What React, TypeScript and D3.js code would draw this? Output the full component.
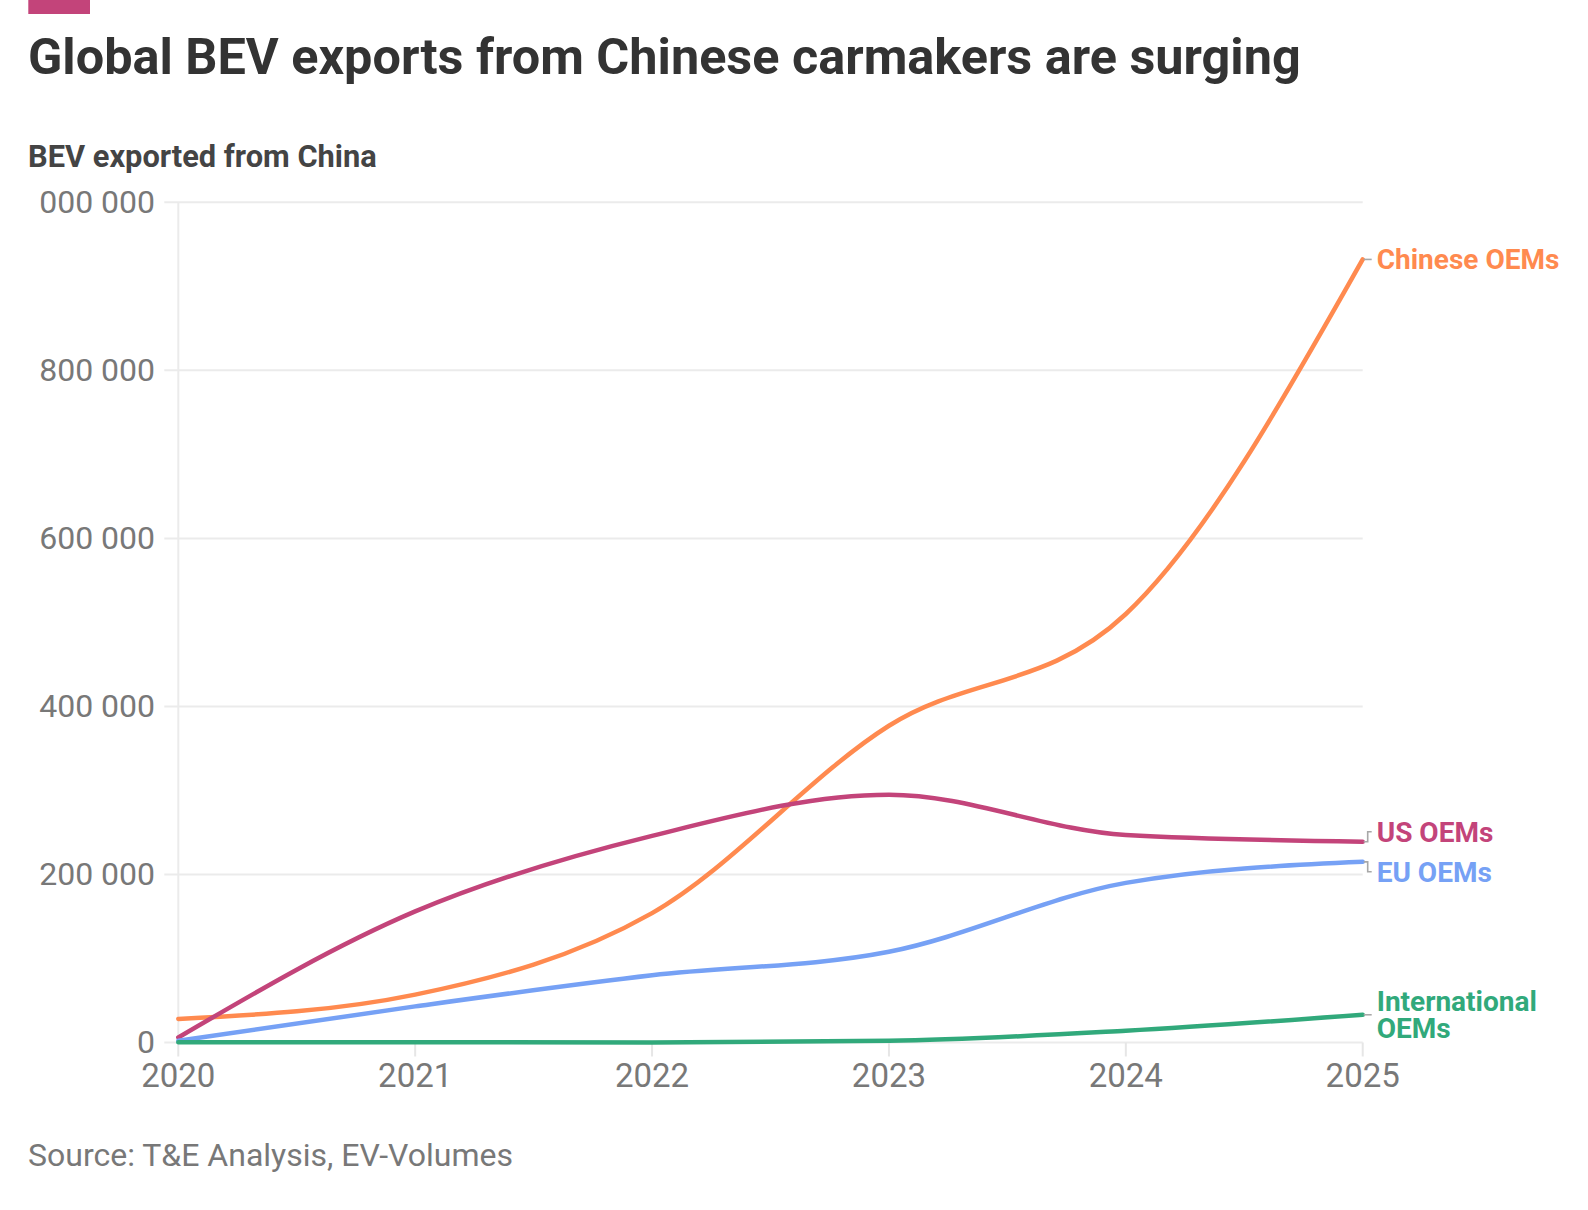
import { useMemo } from "react";
import * as d3 from "d3";

const WIDTH = 1588;
const HEIGHT = 1210;
const MARGIN = { top: 202.3, right: 225.3, bottom: 167.5, left: 178.3 };
const FONT = "Roboto, 'Noto Sans', sans-serif";

// values (units: vehicles)
const years = [2020, 2021, 2022, 2023, 2024, 2025];
const chineseOEMs = [28000, 57000, 154000, 377000, 510000, 932000];
const usOEMs = [6000, 156000, 246000, 295000, 247000, 239000];
const euOEMs = [2000, 43000, 80000, 108000, 190000, 215000];
const internationalOEMs = [300, 200, 100, 2000, 14000, 33000];
const yTicks = [0, 200000, 400000, 600000, 800000, 1000000];

const seriesNames = ["Chinese OEMs", "US OEMs", "EU OEMs", "International OEMs"];
const seriesColors = ["#ff8a4f", "#c3447a", "#76a1f5", "#31a97b"];
const seriesValues = [chineseOEMs, usOEMs, euOEMs, internationalOEMs];
const labelLines = [["Chinese OEMs"], ["US OEMs"], ["EU OEMs"], ["International", "OEMs"]];

const LINE_H = 26.7;

const numFormat = d3.formatLocale({
  decimal: ".",
  thousands: " ",
  grouping: [3],
  currency: ["", ""],
}).format(",");

const App = () => {
  const boundsWidth = WIDTH - MARGIN.left - MARGIN.right;
  const boundsHeight = HEIGHT - MARGIN.top - MARGIN.bottom;

  const xScale = useMemo(
    () => d3.scaleLinear().domain([2020, 2025]).range([0, boundsWidth]),
    [boundsWidth]
  );
  const yScale = useMemo(
    () => d3.scaleLinear().domain([0, 1000000]).range([boundsHeight, 0]),
    [boundsHeight]
  );

  const lineGen = d3
    .line<number>()
    .x((_, i) => xScale(years[i]))
    .y((d) => yScale(d))
    .curve(d3.curveMonotoneX);

  // label positions: start at line end, push apart when they collide
  const labels = useMemo(() => {
    const items = seriesValues.map((vals, i) => ({
      i,
      lineY: yScale(vals[vals.length - 1]),
      y: yScale(vals[vals.length - 1]),
      h: labelLines[i].length * 27,
    }));
    const sorted = [...items].sort((a, b) => a.y - b.y);
    for (let pass = 0; pass < 20; pass++) {
      for (let k = 1; k < sorted.length; k++) {
        const a = sorted[k - 1];
        const b = sorted[k];
        const minGap = (a.h + b.h) / 2 + 13;
        const gap = b.y - a.y;
        if (gap < minGap) {
          const shift = (minGap - gap) / 2;
          a.y -= shift;
          b.y += shift;
        }
      }
    }
    return items;
  }, [yScale]);

  const xEnd = xScale(2025);

  return (
    <div style={{ position: "absolute", left: 0, top: 0, background: "#fff" }}>
      <svg width={WIDTH} height={HEIGHT} style={{ display: "block", fontFamily: FONT }}>
        <defs>
          <clipPath id="yLabelClip">
            <rect x={38} y={-MARGIN.top} width={WIDTH} height={HEIGHT} />
          </clipPath>
        </defs>
        <rect x={28.3} y={0} width={61.7} height={14} fill="#c3447a" />
        <text x={28} y={74} fontSize={50.4} fontWeight={700} fill="#333333">
          Global BEV exports from Chinese carmakers are surging
        </text>
        <text x={28} y={166.5} fontSize={30.8} fontWeight={700} fill="#444444">
          BEV exported from China
        </text>

        <g transform={`translate(${MARGIN.left},${MARGIN.top})`}>
          {/* y grid */}
          {yTicks.map((t) => (
            <line
              key={t}
              x1={-14}
              x2={boundsWidth}
              y1={yScale(t)}
              y2={yScale(t)}
              stroke="#ebebeb"
              strokeWidth={2}
            />
          ))}
          <g clipPath="url(#yLabelClip)" transform={`translate(${-MARGIN.left},0)`}>
            {yTicks.map((t) => (
              <text
                key={t}
                x={155}
                y={yScale(t)}
                dy="0.34em"
                textAnchor="end"
                fontSize={32}
                fill="#787878"
              >
                {numFormat(t)}
              </text>
            ))}
          </g>
          {/* y axis line */}
          <line x1={0} x2={0} y1={0} y2={boundsHeight} stroke="#ebebeb" strokeWidth={2} />
          {/* x ticks + labels */}
          {years.map((yr) => (
            <g key={yr} transform={`translate(${xScale(yr)},${boundsHeight})`}>
              <line y1={0} y2={14} stroke="#e6e6e6" strokeWidth={2} />
              <text y={44} textAnchor="middle" fontSize={33} fill="#787878">
                {yr}
              </text>
            </g>
          ))}

          {/* lines */}
          {seriesValues.map((vals, i) => (
            <path
              key={seriesNames[i]}
              d={lineGen(vals) || ""}
              fill="none"
              stroke={seriesColors[i]}
              strokeWidth={4.5}
              strokeLinejoin="round"
              strokeLinecap="round"
            />
          ))}

          {/* labels with connectors */}
          {labels.map((l) => {
            const connector =
              Math.abs(l.y - l.lineY) < 1
                ? `M${xEnd + 1},${l.lineY}H${xEnd + 9}`
                : `M${xEnd + 1},${l.lineY}H${xEnd + 5}V${l.y}H${xEnd + 9}`;
            const lines = labelLines[l.i];
            const top = l.y - ((lines.length - 1) * LINE_H) / 2;
            return (
              <g key={seriesNames[l.i]}>
                <path d={connector} fill="none" stroke="#a8a8a8" strokeWidth={1.6} />
                {lines.map((s, k) => (
                  <text
                    key={k}
                    x={xEnd + 14}
                    y={top + k * LINE_H}
                    dy="0.35em"
                    fontSize={28}
                    fontWeight={700}
                    fill={seriesColors[l.i]}
                  >
                    {s}
                  </text>
                ))}
              </g>
            );
          })}
        </g>

        <text x={28} y={1166} fontSize={32} fill="#787878">
          Source: T&amp;E Analysis, EV-Volumes
        </text>
      </svg>
    </div>
  );
};

export default App;
